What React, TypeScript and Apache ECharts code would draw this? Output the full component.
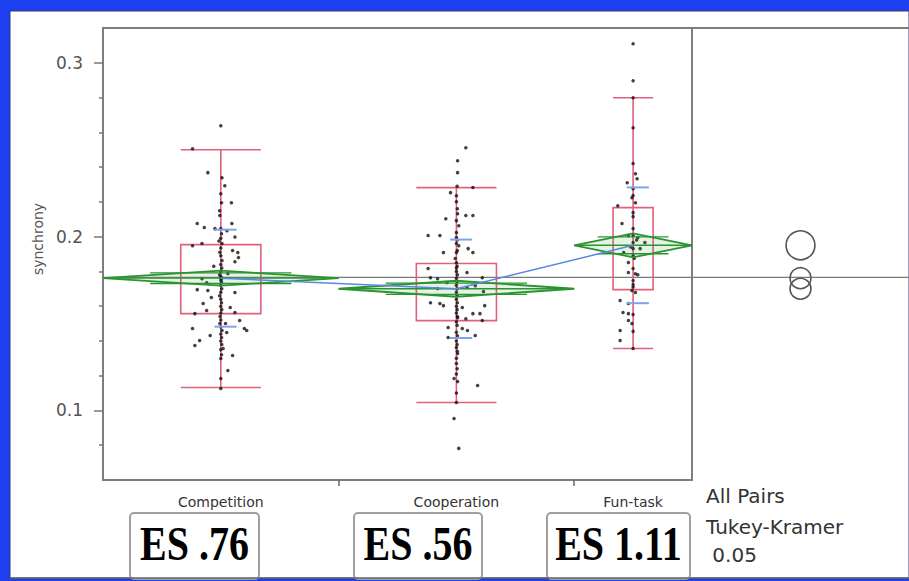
import React, { useEffect, useRef } from "react";
import * as echarts from "echarts";

// ---------- data ----------
const groups = ["Competition", "Cooperation", "Fun-task"];
const esLabels = ["ES .76", "ES .56", "ES 1.11"];
const testLines = ["All Pairs", "Tukey-Kramer", " 0.05"];
// group segments on the x axis (width proportional to group size)
const segStart = [0, 1, 2];
const segEnd = [1, 2, 2.5];
const yMajorTicks = [0.1, 0.2, 0.3];
const yMinorTicks = [0.08, 0.12, 0.14, 0.16, 0.18, 0.22, 0.24, 0.26, 0.28];
// outlier box plot summaries
const whiskerLow = [0.1132, 0.1046, 0.1356];
const quart1 = [0.1557, 0.1517, 0.1695];
const quart3 = [0.1954, 0.1845, 0.2167];
const whiskerHigh = [0.25, 0.2282, 0.2799];
// means, 95% CI half widths, std devs, comparison circle radii
const means = [0.1761, 0.17, 0.195];
const ciHalf = [0.0043, 0.0046, 0.0069];
const stdDev = [0.0279, 0.0283, 0.0333];
const circleRadius = [0.006, 0.006, 0.0083];
const grandMean = 0.1766;

// [jitter, synchrony]
const competitionPts = [
  [0, 0.2638], [-0.12, 0.2506], [-0.055, 0.2368], [0.005, 0.2339], [0.017, 0.2293], [0, 0.2247], [0.003, 0.2195], [0.045, 0.2195],
  [-0.005, 0.2149], [-0.004, 0.2121], [-0.1, 0.2075], [0.047, 0.2075], [-0.07, 0.2052], [-0.025, 0.2046], [0, 0.2046], [0.026, 0.2034],
  [0.003, 0.2017], [0.06, 0.1998], [0, 0.199], [-0.008, 0.1975], [-0.08, 0.196], [0.005, 0.196], [-0.12, 0.1948], [0, 0.1935],
  [0.05, 0.192], [0.072, 0.1908], [-0.004, 0.191], [0, 0.189], [0.075, 0.188], [0.005, 0.1862], [0.06, 0.1855], [0, 0.184],
  [-0.03, 0.183], [0.004, 0.182], [0, 0.18], [0.03, 0.1788], [-0.005, 0.178], [0, 0.177], [-0.08, 0.1758], [0.004, 0.176],
  [0, 0.175], [-0.06, 0.1735], [0.003, 0.174], [0, 0.172], [-0.1, 0.1695], [-0.055, 0.169], [0.004, 0.17], [0.06, 0.1678],
  [0, 0.168], [-0.005, 0.166], [-0.04, 0.165], [0, 0.164], [0.003, 0.162], [-0.075, 0.1615], [0, 0.16], [0.04, 0.1592],
  [-0.06, 0.1575], [0.06, 0.1563], [-0.11, 0.1557], [0.004, 0.158], [0, 0.156], [-0.003, 0.154], [0.08, 0.1517], [0, 0.152],
  [0.02, 0.15], [-0.004, 0.15], [0, 0.148], [-0.12, 0.1471], [0.1, 0.1471], [0.11, 0.146], [0.005, 0.146], [0.025, 0.1448],
  [0, 0.144], [-0.045, 0.1431], [0.003, 0.142], [-0.09, 0.1402], [0, 0.14], [0.004, 0.138], [-0.11, 0.1374], [0.01, 0.1356],
  [0, 0.135], [0.05, 0.1316], [0.003, 0.132], [0, 0.1299], [0.03, 0.123], [0, 0.1184], [0, 0.1126],
];
const cooperationPts = [
  [0.04, 0.2511], [0.005, 0.2437], [0.005, 0.2368], [0.07, 0.2282], [-0.025, 0.2253], [0, 0.2235], [0.003, 0.229], [0, 0.22],
  [0.004, 0.216], [0.005, 0.2132], [0.04, 0.2121], [0.07, 0.2121], [-0.045, 0.2103], [0, 0.2092], [0.01, 0.2063], [0, 0.2023],
  [-0.12, 0.2006], [-0.07, 0.2006], [0, 0.1995], [0.003, 0.198], [0, 0.196], [0.01, 0.1948], [0.05, 0.1931], [-0.055, 0.1908],
  [0, 0.1908], [0.07, 0.1908], [0.004, 0.192], [-0.005, 0.1874], [0, 0.185], [0.003, 0.183], [-0.12, 0.1816], [0, 0.182],
  [0.045, 0.1793], [0, 0.18], [0.004, 0.178], [-0.11, 0.1764], [0, 0.176], [-0.08, 0.1758], [-0.04, 0.1736], [0.003, 0.174],
  [0.11, 0.1764], [0, 0.172], [-0.08, 0.1701], [0.045, 0.1707], [0.004, 0.17], [0.08, 0.1718], [0.115, 0.1684], [0, 0.168],
  [0.003, 0.166], [0, 0.164], [-0.11, 0.162], [-0.07, 0.1615], [0.004, 0.162], [-0.055, 0.1603], [0.12, 0.1603], [0, 0.16],
  [0.025, 0.1592], [0.003, 0.158], [0.07, 0.1557], [0.1, 0.1557], [0, 0.156], [0.004, 0.154], [0.005, 0.1534], [0.04, 0.1528],
  [0.11, 0.1517], [0, 0.151], [0.003, 0.149], [-0.035, 0.1477], [0.025, 0.1471], [0.047, 0.146], [0, 0.145], [0.08, 0.1431],
  [0.004, 0.143], [-0.035, 0.142], [0, 0.14], [0.003, 0.138], [0, 0.1362], [0.004, 0.134], [0.005, 0.1328], [0, 0.13],
  [0, 0.127], [0.003, 0.124], [0, 0.121], [-0.01, 0.1184], [0.005, 0.1167], [0.09, 0.1144], [0, 0.11], [0, 0.1046],
  [-0.01, 0.0954], [0.01, 0.0782],
];
const funTaskPts = [
  [0, 0.3109], [0, 0.2897], [0, 0.2799], [0, 0.2626], [0, 0.242], [0.01, 0.2362], [0.017, 0.2333], [-0.025, 0.231],
  [0, 0.2276], [0, 0.2236], [-0.005, 0.2224], [0.01, 0.2195], [-0.065, 0.2178], [0, 0.2138], [0, 0.2115], [-0.047, 0.2075],
  [0, 0.2046], [-0.02, 0.2006], [0, 0.2006], [0.02, 0.1995], [0.015, 0.198], [0, 0.1966], [0.05, 0.1966], [-0.01, 0.194],
  [0, 0.1931], [0.03, 0.1931], [-0.04, 0.1908], [0, 0.1891], [0.005, 0.1875], [-0.02, 0.1851], [0, 0.1816], [-0.02, 0.1793],
  [0.01, 0.1787], [0.02, 0.1781], [0, 0.1747], [0, 0.1725], [0, 0.171], [-0.005, 0.169], [0.01, 0.1678], [-0.055, 0.1632],
  [-0.02, 0.1615], [-0.043, 0.1563], [-0.02, 0.1557], [0, 0.1552], [-0.02, 0.1517], [-0.005, 0.15], [-0.055, 0.146], [0, 0.1455],
  [-0.055, 0.1402], [0, 0.1356],
];
const groupPts = [competitionPts, cooperationPts, funTaskPts];

// ---------- style ----------
const BLUE_BG = "#1c40f0";
const BOX_RED = "#e2607a";
const GREEN = "#2a9430";
const MEAN_BLUE = "#5a88e0";
const SD_BLUE = "#7ea2ee";
const FRAME = "#7e7e7e";
const BOX_FRAC = 0.17;
const SD_HALF = 0.047;
const SD_OFFSET = 0.02;

export default function App() {
  const ref = useRef<HTMLDivElement>(null);
  useEffect(() => {
    document.body.style.margin = "0";
    const chart = echarts.init(ref.current as HTMLDivElement, undefined, { renderer: "svg" });
    const centers = segStart.map((s, i) => (s + segEnd[i]) / 2);
    const xMax = segEnd[segEnd.length - 1];

    const boxData = groups.map((_, i) => [
      centers[i], quart1[i], quart3[i], whiskerLow[i], whiskerHigh[i], (segEnd[i] - segStart[i]) * BOX_FRAC,
    ]);
    const diamondData = groups.map((_, i) => [segStart[i], segEnd[i], means[i], ciHalf[i]]);
    const sdData = groups.map((_, i) => [centers[i], means[i], stdDev[i]]);
    const circleData = groups.map((_, i) => [0.5, means[i], circleRadius[i]]);
    const pointData: number[][] = [];
    groupPts.forEach((pts, i) => pts.forEach(([j, v]) => pointData.push([centers[i] + j, v])));

    const labelPos = new Map<number, string>();
    centers.forEach((c, i) => labelPos.set(Math.round(c * 1000), groups[i]));

    const option: any = {
      animation: false,
      backgroundColor: BLUE_BG,
      graphic: [
        { type: "rect", z: -10, shape: { x: 10, y: 11, width: 899, height: 567 }, style: { fill: "#fff", stroke: "#3a3a6a", lineWidth: 1 } },
        ...esLabels.map((t, i) => {
          const bx = [130, 354, 547][i];
          const bw = [129, 128, 143][i];
          return {
            type: "group",
            children: [
              { type: "rect", shape: { x: bx, y: 513, width: bw, height: 66, r: 4 }, style: { fill: "#fff", stroke: "#a0a0a0", lineWidth: 2 } },
              {
                type: "text", x: bx + bw / 2, y: 544, scaleY: 1.2,
                style: { text: t, fill: "#000", font: "bold 40px 'Liberation Serif', serif", align: "center", verticalAlign: "middle" },
              },
            ],
          };
        }),
        { type: "line", shape: { x1: 10, y1: 578, x2: 909, y2: 578 }, style: { stroke: "#666", lineWidth: 1.5 } },
        ...testLines.map((t, i) => ({
          type: "text", x: 706, y: [496, 527, 555][i],
          style: { text: t, fill: "#333", font: "20px 'DejaVu Sans', sans-serif", align: "left", verticalAlign: "middle" },
        })),
      ],
      grid: [
        { left: 103, top: 28, width: 589, height: 452, show: true, borderColor: FRAME, borderWidth: 2, backgroundColor: "transparent" },
        { left: 692, top: 28, width: 217, height: 452 },
      ],
      xAxis: [
        {
          type: "value", gridIndex: 0, min: 0, max: xMax,
          splitLine: { show: false },
          axisLine: { show: true, onZero: false, lineStyle: { color: FRAME, width: 2 } },
          axisTick: { show: true, customValues: [1, 2], length: 6, lineStyle: { color: "#666", width: 1.5 } },
          axisLabel: {
            show: true, customValues: centers, margin: 15, color: "#333",
            fontFamily: "'DejaVu Sans', sans-serif", fontSize: 14,
            formatter: (v: number) => labelPos.get(Math.round(v * 1000)) || "",
          },
        },
        {
          type: "value", gridIndex: 1, min: 0, max: 1, position: "top",
          splitLine: { show: false },
          axisLine: { show: true, lineStyle: { color: FRAME, width: 2 } },
          axisTick: { show: false }, axisLabel: { show: false },
        },
      ],
      yAxis: [
        {
          type: "value", gridIndex: 0, min: 0.06, max: 0.32, position: "left",
          name: "synchrony", nameLocation: "middle", nameGap: 58, nameRotate: 90,
          nameTextStyle: { color: "#555", fontSize: 14, fontFamily: "'DejaVu Sans', sans-serif", padding: [0, 0, 0, 30] },
          splitLine: { show: false },
          axisLine: { show: true, lineStyle: { color: FRAME, width: 2 } },
          axisTick: { show: true, customValues: yMajorTicks, length: 9, lineStyle: { color: "#777", width: 1.5 } },
          axisLabel: {
            show: true, customValues: yMajorTicks, margin: 20, color: "#555",
            fontSize: 17, fontFamily: "'DejaVu Sans', sans-serif",
            formatter: (v: number) => v.toFixed(1),
          },
        },
        {
          type: "value", gridIndex: 0, min: 0.06, max: 0.32, position: "left",
          splitLine: { show: false },
          axisLine: { show: false },
          axisTick: { show: true, customValues: yMinorTicks, length: 4, lineStyle: { color: "#777", width: 1.5 } },
          axisLabel: { show: false },
        },
        {
          type: "value", gridIndex: 1, min: 0.06, max: 0.32, show: false,
        },
      ],
      series: [
        {
          type: "line", xAxisIndex: 0, yAxisIndex: 0, z: 1, symbol: "none", silent: true,
          data: [[0, grandMean], [xMax, grandMean]], lineStyle: { color: "#7a7a7a", width: 1.2 },
        },
        {
          type: "line", xAxisIndex: 1, yAxisIndex: 2, z: 1, symbol: "none", silent: true,
          data: [[0, grandMean], [1, grandMean]], lineStyle: { color: "#7a7a7a", width: 1.2 },
        },
        {
          type: "custom", xAxisIndex: 0, yAxisIndex: 0, z: 2, data: boxData,
          encode: { x: 0, y: [1, 2, 3, 4] },
          renderItem: (_p: any, api: any) => {
            const c = api.value(0), a = api.value(1), b = api.value(2), lo = api.value(3), hi = api.value(4), hw = api.value(5);
            const tl = api.coord([c - hw, b]);
            const br = api.coord([c + hw, a]);
            const top = api.coord([c, hi]);
            const bot = api.coord([c, lo]);
            const style = { stroke: BOX_RED, lineWidth: 1.6, fill: "none" };
            return {
              type: "group",
              children: [
                { type: "rect", shape: { x: tl[0], y: tl[1], width: br[0] - tl[0], height: br[1] - tl[1] }, style },
                { type: "line", shape: { x1: top[0], y1: top[1], x2: bot[0], y2: bot[1] }, style },
                { type: "line", shape: { x1: tl[0], y1: top[1], x2: br[0], y2: top[1] }, style },
                { type: "line", shape: { x1: tl[0], y1: bot[1], x2: br[0], y2: bot[1] }, style },
              ],
            };
          },
        },
        {
          type: "scatter", xAxisIndex: 0, yAxisIndex: 0, z: 3, data: pointData,
          symbol: "circle", symbolSize: 3.5, itemStyle: { color: "#111" }, silent: true,
        },
        {
          type: "custom", xAxisIndex: 0, yAxisIndex: 0, z: 4, data: diamondData,
          encode: { x: [0, 1], y: 2 },
          renderItem: (_p: any, api: any) => {
            const s = api.value(0), e = api.value(1), m = api.value(2), ci = api.value(3);
            const c = (s + e) / 2;
            const L = api.coord([s, m]);
            const R = api.coord([e, m]);
            const T = api.coord([c, m + ci]);
            const B = api.coord([c, m - ci]);
            const k = Math.SQRT1_2;
            const oTop = api.coord([c, m + ci * k])[1];
            const oBot = api.coord([c, m - ci * k])[1];
            const w = R[0] - L[0];
            const lineStyle = { stroke: GREEN, lineWidth: 1.4 };
            return {
              type: "group",
              children: [
                { type: "polygon", shape: { points: [L, T, R, B] }, style: { fill: "rgba(42,148,48,0.12)", stroke: GREEN, lineWidth: 1.8 } },
                { type: "line", shape: { x1: L[0], y1: L[1], x2: R[0], y2: R[1] }, style: lineStyle },
                { type: "line", shape: { x1: L[0] + w * 0.2, y1: oTop, x2: R[0] - w * 0.2, y2: oTop }, style: lineStyle },
                { type: "line", shape: { x1: L[0] + w * 0.2, y1: oBot, x2: R[0] - w * 0.2, y2: oBot }, style: lineStyle },
              ],
            };
          },
        },
        {
          type: "custom", xAxisIndex: 0, yAxisIndex: 0, z: 5, data: sdData,
          encode: { x: 0, y: 1 },
          renderItem: (_p: any, api: any) => {
            const c = api.value(0), m = api.value(1), sd = api.value(2);
            const a1 = api.coord([c + SD_OFFSET - SD_HALF, m + sd]);
            const a2 = api.coord([c + SD_OFFSET + SD_HALF, m + sd]);
            const b1 = api.coord([c + SD_OFFSET - SD_HALF, m - sd]);
            const b2 = api.coord([c + SD_OFFSET + SD_HALF, m - sd]);
            const style = { stroke: SD_BLUE, lineWidth: 2 };
            return {
              type: "group",
              children: [
                { type: "line", shape: { x1: a1[0], y1: a1[1], x2: a2[0], y2: a2[1] }, style },
                { type: "line", shape: { x1: b1[0], y1: b1[1], x2: b2[0], y2: b2[1] }, style },
              ],
            };
          },
        },
        {
          type: "line", xAxisIndex: 0, yAxisIndex: 0, z: 6, symbol: "none", silent: true,
          data: centers.map((c, i) => [c, means[i]]), lineStyle: { color: MEAN_BLUE, width: 1.5 },
        },
        {
          type: "custom", xAxisIndex: 1, yAxisIndex: 2, z: 5, data: circleData,
          encode: { x: 0, y: 1 },
          renderItem: (_p: any, api: any) => {
            const p = api.coord([api.value(0), api.value(1)]);
            const r = api.size([0, api.value(2)])[1];
            return { type: "circle", shape: { cx: p[0], cy: p[1], r }, style: { fill: "none", stroke: "#555", lineWidth: 1.6 } };
          },
        },
      ],
    };
    chart.setOption(option);
    return () => chart.dispose();
  }, []);
  return <div ref={ref} style={{ position: "absolute", left: 0, top: 0, width: 909, height: 581 }} />;
}
